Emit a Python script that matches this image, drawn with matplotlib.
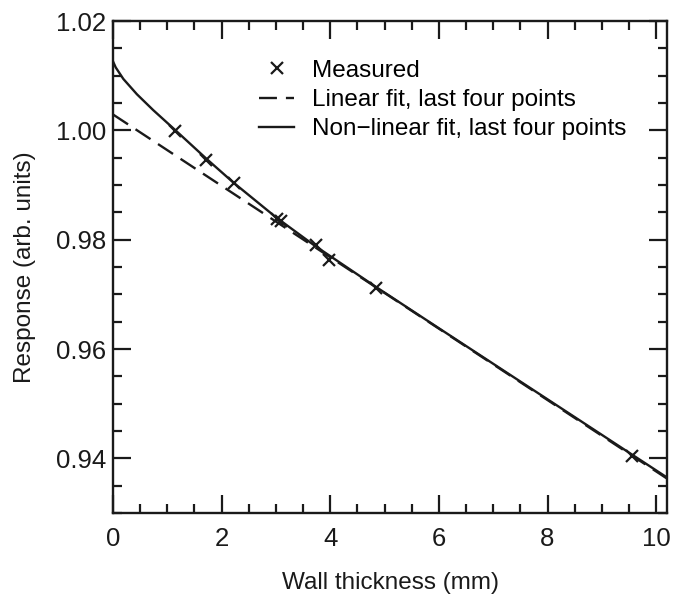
import matplotlib
matplotlib.use("Agg")
import matplotlib.pyplot as plt
from matplotlib.ticker import MultipleLocator, FormatStrFormatter

plt.rcParams["font.family"] = ["Liberation Sans", "DejaVu Sans"]

# measured points
thickness = [1.14, 1.72, 2.23, 3.01, 3.10, 3.73, 3.98, 4.85, 9.56]
response = [0.9999, 0.9945, 0.9904, 0.9837, 0.9834, 0.9791, 0.9762, 0.9711, 0.9404]

# linear fit (end points)
lin_x = [0.0, 10.2]
lin_y = [1.0029, 0.9363]

# non-linear fit, sampled along the drawn curve
nl_x = [0.0, 0.05, 0.19, 0.44, 0.74, 1.14, 1.72, 2.21, 3.0, 3.7, 4.85, 6.0, 8.0, 10.2]
nl_y = [1.0126, 1.0115, 1.0094, 1.0066, 1.0037, 1.0001, 0.9948, 0.9905, 0.9841,
        0.9790, 0.9713, 0.9638, 0.9508, 0.9365]

ink = "#1a1a1a"
fs = 17.5

fig = plt.figure(figsize=(6.74, 5.97), dpi=100)
ax = fig.add_axes([0.1677, 0.1407, 0.8219, 0.8241])

ax.plot(thickness, response, linestyle="none", marker="x", color=ink,
        markersize=8, markeredgewidth=1.6, label="Measured")
ax.plot(lin_x, lin_y, color=ink, linewidth=1.7, dashes=(7.6, 3.8),
        label="Linear fit, last four points")
ax.plot(nl_x, nl_y, color=ink, linewidth=1.7,
        label="Non\u2212linear fit, last four points")

ax.set_xlim(0, 10.2)
ax.set_ylim(0.93, 1.02)
ax.xaxis.set_major_locator(MultipleLocator(2))
ax.xaxis.set_minor_locator(MultipleLocator(0.5))
ax.yaxis.set_major_locator(MultipleLocator(0.02))
ax.yaxis.set_minor_locator(MultipleLocator(0.005))
ax.yaxis.set_major_formatter(FormatStrFormatter("%.2f"))
ax.xaxis.set_major_formatter(FormatStrFormatter("%d"))

ax.tick_params(which="both", direction="in", top=True, right=True,
               width=1.6, colors=ink, labelsize=18.5)
ax.tick_params(which="major", length=13)
ax.tick_params(which="minor", length=6.5)
ax.tick_params(axis="x", pad=10)
ax.tick_params(axis="y", pad=5)
for s in ax.spines.values():
    s.set_linewidth(1.7)
    s.set_color(ink)

ax.set_xlabel("Wall thickness (mm)", fontsize=fs, labelpad=15, color=ink)
ax.set_ylabel("Response (arb. units)", fontsize=fs, labelpad=14, color=ink)

ax.legend(loc="upper left", bbox_to_anchor=(0.246, 0.941), frameon=False,
          fontsize=fs, handlelength=1.45, handletextpad=0.74,
          labelspacing=0.3, borderaxespad=0)

fig.savefig("out.png", dpi=100)
